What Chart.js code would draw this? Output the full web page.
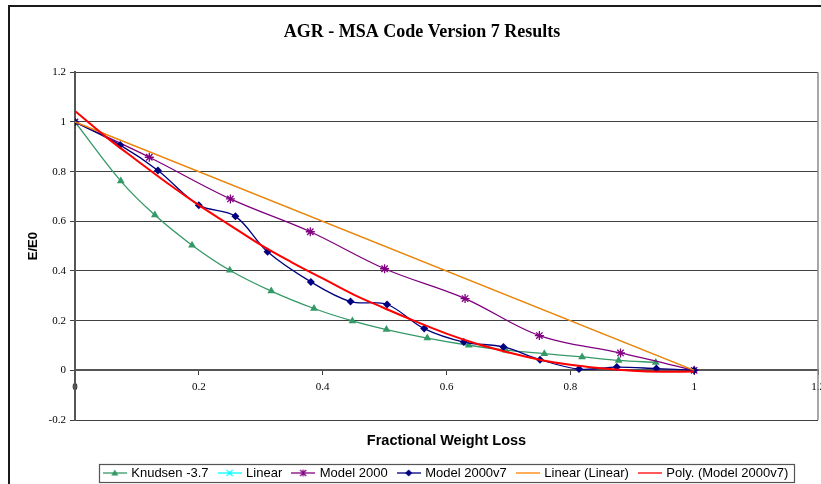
<!DOCTYPE html>
<html><head><meta charset="utf-8">
<script src="https://cdn.jsdelivr.net/npm/chart.js@4.4.1/dist/chart.umd.min.js"></script>
<style>html,body{margin:0;padding:0;background:#fff;}</style>
</head><body>
<canvas id="c" width="821" height="484"></canvas>
<script>
// ---- data ----
const knudsenX = [0, 0.074, 0.129, 0.189, 0.25, 0.317, 0.386, 0.448, 0.503, 0.569, 0.636, 0.696, 0.758, 0.819, 0.878, 0.938];
const knudsenY = [1, 0.762, 0.625, 0.504, 0.403, 0.319, 0.249, 0.199, 0.164, 0.130, 0.101, 0.081, 0.067, 0.054, 0.040, 0.032];
const linearX = [0, 1];
const linearY = [1, 0];
const model2000X = [0, 0.120, 0.251, 0.380, 0.500, 0.630, 0.750, 0.881, 1];
const model2000Y = [1, 0.858, 0.690, 0.558, 0.409, 0.289, 0.140, 0.070, 0];
const model2000v7X = [0, 0.073, 0.134, 0.200, 0.259, 0.311, 0.381, 0.445, 0.504, 0.564, 0.628, 0.692, 0.751, 0.814, 0.875, 0.939, 1];
const model2000v7Y = [1, 0.907, 0.805, 0.665, 0.620, 0.477, 0.356, 0.277, 0.265, 0.168, 0.114, 0.094, 0.043, 0.005, 0.013, 0.007, 0];
const linTrendX = [0, 1];
const linTrendY = [1, 0];
const polyX = [0, 0.05, 0.1, 0.15, 0.2, 0.25, 0.3, 0.35, 0.4, 0.45, 0.5, 0.55, 0.6, 0.65, 0.7, 0.75, 0.8, 0.85, 0.9, 0.95, 1];
const polyY = [1.044, 0.94, 0.845, 0.752, 0.665, 0.585, 0.505, 0.435, 0.37, 0.305, 0.25, 0.197, 0.148, 0.106, 0.072, 0.043, 0.022, 0.008, -0.002, -0.006, -0.005];
const seriesNames = ['Knudsen -3.7', 'Linear', 'Model 2000', 'Model 2000v7', 'Linear (Linear)', 'Poly. (Model 2000v7)'];
const xTickLabels = ['0', '0.2', '0.4', '0.6', '0.8', '1', '1.2'];
const yTickLabels = ['-0.2', '0', '0.2', '0.4', '0.6', '0.8', '1', '1.2'];
const chartTitle = 'AGR - MSA Code Version 7 Results';
const xTitle = 'Fractional Weight Loss';
const yTitle = 'E/E0';

const pts = (xs, ys) => xs.map((x, i) => ({x: x, y: ys[i]}));

const GREEN = '#339966', CYAN = '#00ffff', PURPLE = '#800080', NAVY = '#000080', ORANGE = '#ff8000', RED = '#ff0000';

function legendImg(color, marker) {
  const c = document.createElement('canvas');
  c.width = 24; c.height = 12;
  const g = c.getContext('2d');
  g.strokeStyle = color; g.lineWidth = 1.3;
  g.beginPath(); g.moveTo(0, 6); g.lineTo(24, 6); g.stroke();
  g.fillStyle = color; g.lineWidth = 1.2;
  const cx = 12, cy = 6;
  if (marker === 'triangle') {
    g.beginPath(); g.moveTo(cx, cy - 3.5); g.lineTo(cx + 3.5, cy + 2.5); g.lineTo(cx - 3.5, cy + 2.5); g.closePath(); g.fill();
  } else if (marker === 'x') {
    g.beginPath(); g.moveTo(cx - 3, cy - 3); g.lineTo(cx + 3, cy + 3); g.moveTo(cx + 3, cy - 3); g.lineTo(cx - 3, cy + 3); g.stroke();
  } else if (marker === 'star') {
    g.beginPath(); g.moveTo(cx - 3, cy - 3); g.lineTo(cx + 3, cy + 3); g.moveTo(cx + 3, cy - 3); g.lineTo(cx - 3, cy + 3);
    g.moveTo(cx, cy - 3.5); g.lineTo(cx, cy + 3.5); g.stroke();
  } else if (marker === 'diamond') {
    g.beginPath(); g.moveTo(cx, cy - 3.5); g.lineTo(cx + 3.5, cy); g.lineTo(cx, cy + 3.5); g.lineTo(cx - 3.5, cy); g.closePath(); g.fill();
  }
  return c;
}
const legendImages = [
  legendImg(GREEN, 'triangle'), legendImg(CYAN, 'x'), legendImg(PURPLE, 'star'),
  legendImg(NAVY, 'diamond'), legendImg(ORANGE, null), legendImg(RED, null)
];

const decor = {
  id: 'decor',
  beforeDraw(chart) {
    const ctx = chart.ctx;
    ctx.save(); ctx.fillStyle = '#fff'; ctx.fillRect(0, 0, chart.width, chart.height); ctx.restore();
  },
  afterDraw(chart) {
    const ctx = chart.ctx, a = chart.chartArea;
    ctx.save();
    // plot area right border
    ctx.strokeStyle = '#8a8a8a'; ctx.lineWidth = 1.5;
    ctx.beginPath(); ctx.moveTo(a.right, a.top); ctx.lineTo(a.right, a.bottom); ctx.stroke();
    // legend frame
    const hb = chart.legend.legendHitBoxes;
    if (hb && hb.length) {
      const l = Math.min(...hb.map(h => h.left)) - 6;
      const r = Math.max(...hb.map(h => h.left + h.width)) + 6;
      const cy = hb[0].top + hb[0].height / 2;
      ctx.strokeStyle = '#555'; ctx.lineWidth = 1.2;
      ctx.strokeRect(Math.round(l) + 0.5, Math.round(cy - 9) + 0.5, Math.round(r - l), 18);
    }
    // outer chart border
    ctx.strokeStyle = '#1a1a1a'; ctx.lineWidth = 2;
    ctx.strokeRect(9, 6, 1000, 1000);
    ctx.restore();
  }
};

const tickFont = {family: 'Liberation Serif', size: 11};

new Chart(document.getElementById('c'), {
  type: 'scatter',
  data: {
    datasets: [
      {label: seriesNames[0], data: pts(knudsenX, knudsenY), showLine: true, borderColor: GREEN, backgroundColor: GREEN,
       borderWidth: 1.3, tension: 0.35, pointStyle: 'triangle', pointRadius: 4.5, pointBorderWidth: 0, order: 4},
      {label: seriesNames[1], data: pts(linearX, linearY), showLine: true, borderColor: CYAN, backgroundColor: CYAN,
       borderWidth: 1, pointStyle: 'crossRot', pointRadius: 3.5, pointBorderWidth: 1, order: 5},
      {label: seriesNames[2], data: pts(model2000X, model2000Y), showLine: true, borderColor: PURPLE, backgroundColor: PURPLE,
       borderWidth: 1.3, tension: 0.35, pointStyle: 'star', pointRadius: 4.5, pointBorderWidth: 1.3, order: 3},
      {label: seriesNames[3], data: pts(model2000v7X, model2000v7Y), showLine: true, borderColor: NAVY, backgroundColor: NAVY,
       borderWidth: 1.3, tension: 0.35, pointStyle: 'rectRot', pointRadius: 4, pointBorderWidth: 0, order: 2},
      {label: seriesNames[4], data: pts(linTrendX, linTrendY), showLine: true, borderColor: ORANGE, backgroundColor: ORANGE,
       borderWidth: 1.4, pointRadius: 0, order: 1},
      {label: seriesNames[5], data: pts(polyX, polyY), showLine: true, borderColor: RED, backgroundColor: RED,
       borderWidth: 2, tension: 0.4, pointRadius: 0, order: 0}
    ]
  },
  options: {
    responsive: false,
    animation: false,
    events: [],
    layout: {autoPadding: false, padding: {left: 26, right: 3, top: 0, bottom: -5.5}},
    scales: {
      x: {
        type: 'linear', min: 0, max: 1.2, position: {y: 0},
        ticks: {stepSize: 0.2, font: tickFont, color: '#000', padding: 6, maxRotation: 0,
                callback: (v, i) => xTickLabels[i]},
        grid: {drawOnChartArea: false, drawTicks: true, tickLength: 4, color: '#404040'},
        border: {color: '#555', width: 2},
        afterFit: (s) => { s.paddingLeft = 0; s.paddingRight = 0; }
      },
      x2: {
        type: 'linear', min: 0, max: 1.2, position: 'bottom',
        ticks: {display: false},
        grid: {display: false, drawTicks: false},
        border: {display: false},
        title: {display: true, text: xTitle, color: '#000',
                font: {family: 'Liberation Sans', size: 14.5, weight: 'bold'}, padding: {top: 12, bottom: 6.1}}
      },
      y: {
        type: 'linear', min: -0.2, max: 1.2, position: 'left',
        ticks: {stepSize: 0.2, font: tickFont, color: '#000', padding: 4,
                callback: (v, i) => yTickLabels[i]},
        grid: {color: '#404040', lineWidth: 1, drawTicks: true, tickLength: 5},
        border: {color: '#555', width: 2},
        title: {display: true, text: yTitle, color: '#000',
                font: {family: 'Liberation Sans', size: 13, weight: 'bold'}, padding: {top: 0, bottom: 0}},
        afterFit: (s) => { s.width = 49; }
      }
    },
    plugins: {
      title: {display: true, text: chartTitle, color: '#000',
              font: {family: 'Liberation Serif', size: 18, weight: 'bold'}, padding: {top: 21.5, bottom: 29.2}},
      legend: {
        display: true, position: 'bottom', fullSize: false,
        labels: {
          usePointStyle: true, pointStyleWidth: 20, padding: 11, color: '#000',
          font: {family: 'Liberation Sans', size: 13},
          generateLabels: (chart) => chart.data.datasets.map((ds, i) => ({
            text: ds.label, pointStyle: legendImages[i], datasetIndex: i, hidden: false,
            fontColor: '#000', lineWidth: 0, strokeStyle: 'rgba(0,0,0,0)', fillStyle: 'rgba(0,0,0,0)'
          }))
        }
      },
      tooltip: {enabled: false}
    }
  },
  plugins: [decor]
});
</script>
</body></html>
